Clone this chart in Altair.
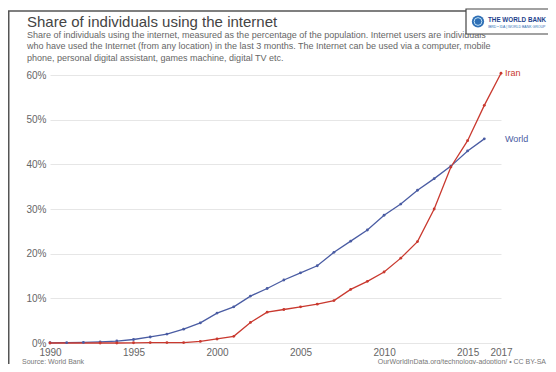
import altair as alt
import pandas as pd

# ---- data ----
world_years = list(range(1990, 2017))
world_vals = [0.05, 0.08, 0.13, 0.25, 0.44, 0.78, 1.35, 2.0, 3.1, 4.5, 6.7, 8.1, 10.5,
              12.2, 14.1, 15.7, 17.3, 20.3, 22.8, 25.3, 28.6, 31.1, 34.2, 36.8, 39.6,
              43.0, 45.7]
iran_years = [1990, 1993, 1994, 1995, 1996, 1997, 1998, 1999, 2000, 2001, 2002, 2003,
              2004, 2005, 2006, 2007, 2008, 2009, 2010, 2011, 2012, 2013, 2014, 2015,
              2016, 2017]
iran_vals = [0.0, 0.0, 0.0, 0.05, 0.1, 0.1, 0.1, 0.35, 0.9, 1.5, 4.6, 6.9, 7.5, 8.1, 8.7,
             9.5, 12.0, 13.8, 15.9, 19.0, 22.7, 30.0, 39.4, 45.3, 53.2, 60.4]
series_names = ["World", "Iran"]
series_colors = ["#4a5ca3", "#c9392f"]
x_ticks = [1990, 1995, 2000, 2005, 2010, 2015, 2017]
y_ticks = [0, 10, 20, 30, 40, 50, 60]

title = "Share of individuals using the internet"
subtitle = [
    "Share of individuals using the internet, measured as the percentage of the population. Internet users are individuals",
    "who have used the Internet (from any location) in the last 3 months. The Internet can be used via a computer, mobile",
    "phone, personal digital assistant, games machine, digital TV etc.",
]
source = "Source: World Bank"
credit = "OurWorldInData.org/technology-adoption/ \u2022 CC BY-SA"

df = pd.concat([
    pd.DataFrame({"year": world_years, "value": world_vals, "entity": "World"}),
    pd.DataFrame({"year": iran_years, "value": iran_vals, "entity": "Iran"}),
])
last = df.sort_values("year").groupby("entity").tail(1)

W, H = 451, 268
FONT = "Liberation Sans"

xenc = alt.X("year:Q", scale=alt.Scale(domain=[1990, 2017], nice=False, zero=False),
             axis=alt.Axis(values=x_ticks, format="d", title=None, grid=False,
                           domain=False, ticks=False, labelPadding=4, labelFlush=False,
                           labelOverlap=False,
                           labelFontSize=10, labelColor="#666", labelFont=FONT))
yenc = alt.Y("value:Q", scale=alt.Scale(domain=[0, 60], nice=False),
             axis=alt.Axis(values=y_ticks, labelExpr="datum.value + '%'", title=None,
                           domain=False, ticks=False, labelPadding=4, gridColor="#e6e6e6",
                           labelFlush=False, labelOverlap=False,
                           labelFontSize=10, labelColor="#666", labelFont=FONT))
color = alt.Color("entity:N", scale=alt.Scale(domain=series_names, range=series_colors),
                  legend=None)

base = alt.Chart(df)
lines = base.mark_line(strokeWidth=1.3).encode(x=xenc, y=yenc, color=color, detail="entity:N")
pts = base.mark_point(filled=True, size=8, opacity=1).encode(x="year:Q", y="value:Q", color=color)

labels = alt.Chart(last).mark_text(align="left", baseline="middle", font=FONT,
                                   fontSize=9).encode(
    x=alt.value(W + 4), y="value:Q", text="entity:N", color=color)


def txt(s, x, y, size, col, weight="normal", align="left", baseline="alphabetic"):
    return alt.Chart(alt.Data(values=[{}])).mark_text(
        align=align, baseline=baseline, font=FONT, fontSize=size, color=col,
        fontWeight=weight).encode(x=alt.value(x), y=alt.value(y), text=alt.value(s))


left = -42
layers = [lines, pts, labels]
layers.append(txt(title, 27 - 50, 27 - 75, 15, "#444"))
for i, s in enumerate(subtitle):
    layers.append(txt(s, 27 - 50, 37.5 - 75 + i * 11.5, 9, "#666"))
layers.append(txt(source, 22 - 50, 363.5 - 75, 7, "#777"))
layers.append(txt(credit, 546 - 50, 363.5 - 75, 7, "#777", align="right"))

# frame lines
one = alt.Data(values=[{}])
layers.append(alt.Chart(one).mark_rule(color="#555", strokeWidth=1.5).encode(
    x=alt.value(left + 0.75), y=alt.value(11 - 75), y2=alt.value(H + 40)))
layers.append(alt.Chart(one).mark_rule(color="#555", strokeWidth=1.5).encode(
    x=alt.value(left), x2=alt.value(W + 60), y=alt.value(11 - 75)))
# logo box
layers.append(alt.Chart(one).mark_rect(fill="white", stroke="#444", strokeWidth=1.2).encode(
    x=alt.value(466 - 50), x2=alt.value(W + 60), y=alt.value(9 - 75), y2=alt.value(34 - 75)))
layers.append(alt.Chart(one).mark_point(filled=True, shape="circle", size=150,
                                        color="#2f6fb5", opacity=1).encode(
    x=alt.value(478 - 50), y=alt.value(21.5 - 75)))
layers.append(alt.Chart(one).mark_point(filled=False, shape="circle", size=60,
                                        color="#bfe0f5", strokeWidth=1, opacity=1).encode(
    x=alt.value(478 - 50), y=alt.value(21.5 - 75)))
layers.append(txt("THE WORLD BANK", 488 - 50, 22 - 75, 6.3, "#1d3f8c", weight="bold"))
layers.append(txt("IBRD \u2022 IDA | WORLD BANK GROUP", 488 - 50, 28 - 75, 3.5, "#2f6fb5"))

chart = alt.layer(*layers).properties(
    width=W, height=H,
    padding={"left": 42, "top": 67, "right": 47, "bottom": 21},
    autosize=alt.AutoSizeParams(type="none"),
    background="white",
).configure_view(stroke=None)

chart.save("out.html", embed_options={"renderer": "svg", "actions": False})
